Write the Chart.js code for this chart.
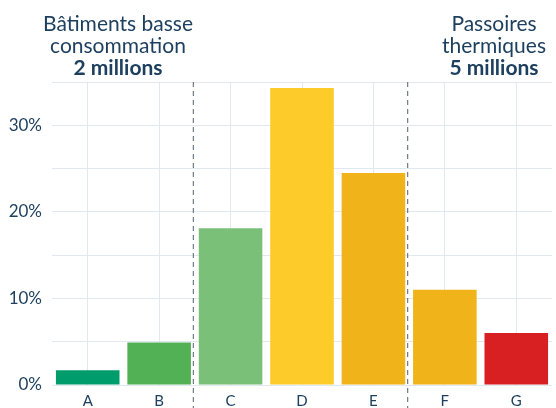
<!DOCTYPE html>
<html>
<head>
<meta charset="utf-8">
<script src="https://cdn.jsdelivr.net/npm/chart.js@4/dist/chart.umd.min.js"></script>
<style>
  html, body { margin: 0; padding: 0; background: #fff; }
  #wrap { width: 556px; height: 408px; }
</style>
</head>
<body>
<div id="wrap"><canvas id="dpeChart" width="556" height="408"></canvas></div>
<script>
// DPE classes and share of dwellings (%)
const categories = ['A', 'B', 'C', 'D', 'E', 'F', 'G'];
const shares = [1.7, 4.9, 18.1, 34.3, 24.5, 11.0, 6.0];
const yTicks = [0, 10, 20, 30];
const groupLabels = [
  { lines: ['Bâtiments basse', 'consommation'], value: '2 millions' },
  { lines: ['Passoires', 'thermiques'], value: '5 millions' }
];

const barColors = ['#009c6b', '#52b155', '#7bc079', '#fdcb2a', '#f0b41a', '#f0b41a', '#d81f21'];
const textColor = '#1e405f';
const gridColor = '#e1e9f0';

// dashed separators + group headings
const groupPlugin = {
  id: 'groups',
  afterDatasetsDraw(chart) {
    const { ctx, scales: { x }, chartArea } = chart;
    const half = (x.getPixelForValue(1) - x.getPixelForValue(0)) / 2;
    ctx.save();
    ctx.strokeStyle = '#6f7c87';
    ctx.lineWidth = 1.2;
    ctx.setLineDash([5, 4]);
    [1, 4].forEach(i => {
      const px = x.getPixelForValue(i) + half - 1.5;
      ctx.beginPath();
      ctx.moveTo(px, chartArea.top);
      ctx.lineTo(px, chart.height);
      ctx.stroke();
    });
    ctx.setLineDash([]);
    ctx.fillStyle = textColor;
    ctx.textAlign = 'center';
    ctx.textBaseline = 'alphabetic';
    const centers = [118, 494];
    groupLabels.forEach((g, k) => {
      ctx.font = '21px Lato';
      g.lines.forEach((l, j) => ctx.fillText(l, centers[k], 31 + j * 22));
      ctx.font = 'bold 21px Lato';
      ctx.fillText(g.value, centers[k], 75);
    });
    ctx.restore();
  }
};

new Chart(document.getElementById('dpeChart').getContext('2d'), {
  type: 'bar',
  data: {
    labels: categories,
    datasets: [{
      data: shares,
      backgroundColor: barColors,
      barPercentage: 0.89,
      categoryPercentage: 1
    }]
  },
  options: {
    responsive: false,
    animation: false,
    layout: { padding: { top: 82, right: 4, left: 0, bottom: 0 } },
    plugins: { legend: { display: false }, tooltip: { enabled: false } },
    scales: {
      x: {
        grid: { offset: false, color: gridColor, drawTicks: false },
        border: { display: false },
        afterFit(s) { s.height = 23; },
        ticks: { color: textColor, font: { family: 'Lato', size: 15 }, padding: 7 }
      },
      y: {
        min: 0,
        max: 35,
        grid: { color: gridColor, drawTicks: false },
        border: { display: false },
        afterFit(s) { s.width = 52; },
        ticks: {
          stepSize: 5,
          color: textColor,
          padding: 10,
          font: { family: 'Lato', size: 17 },
          callback: v => yTicks.includes(v) ? v + '%' : ''
        }
      }
    }
  },
  plugins: [groupPlugin]
});
</script>
</body>
</html>
